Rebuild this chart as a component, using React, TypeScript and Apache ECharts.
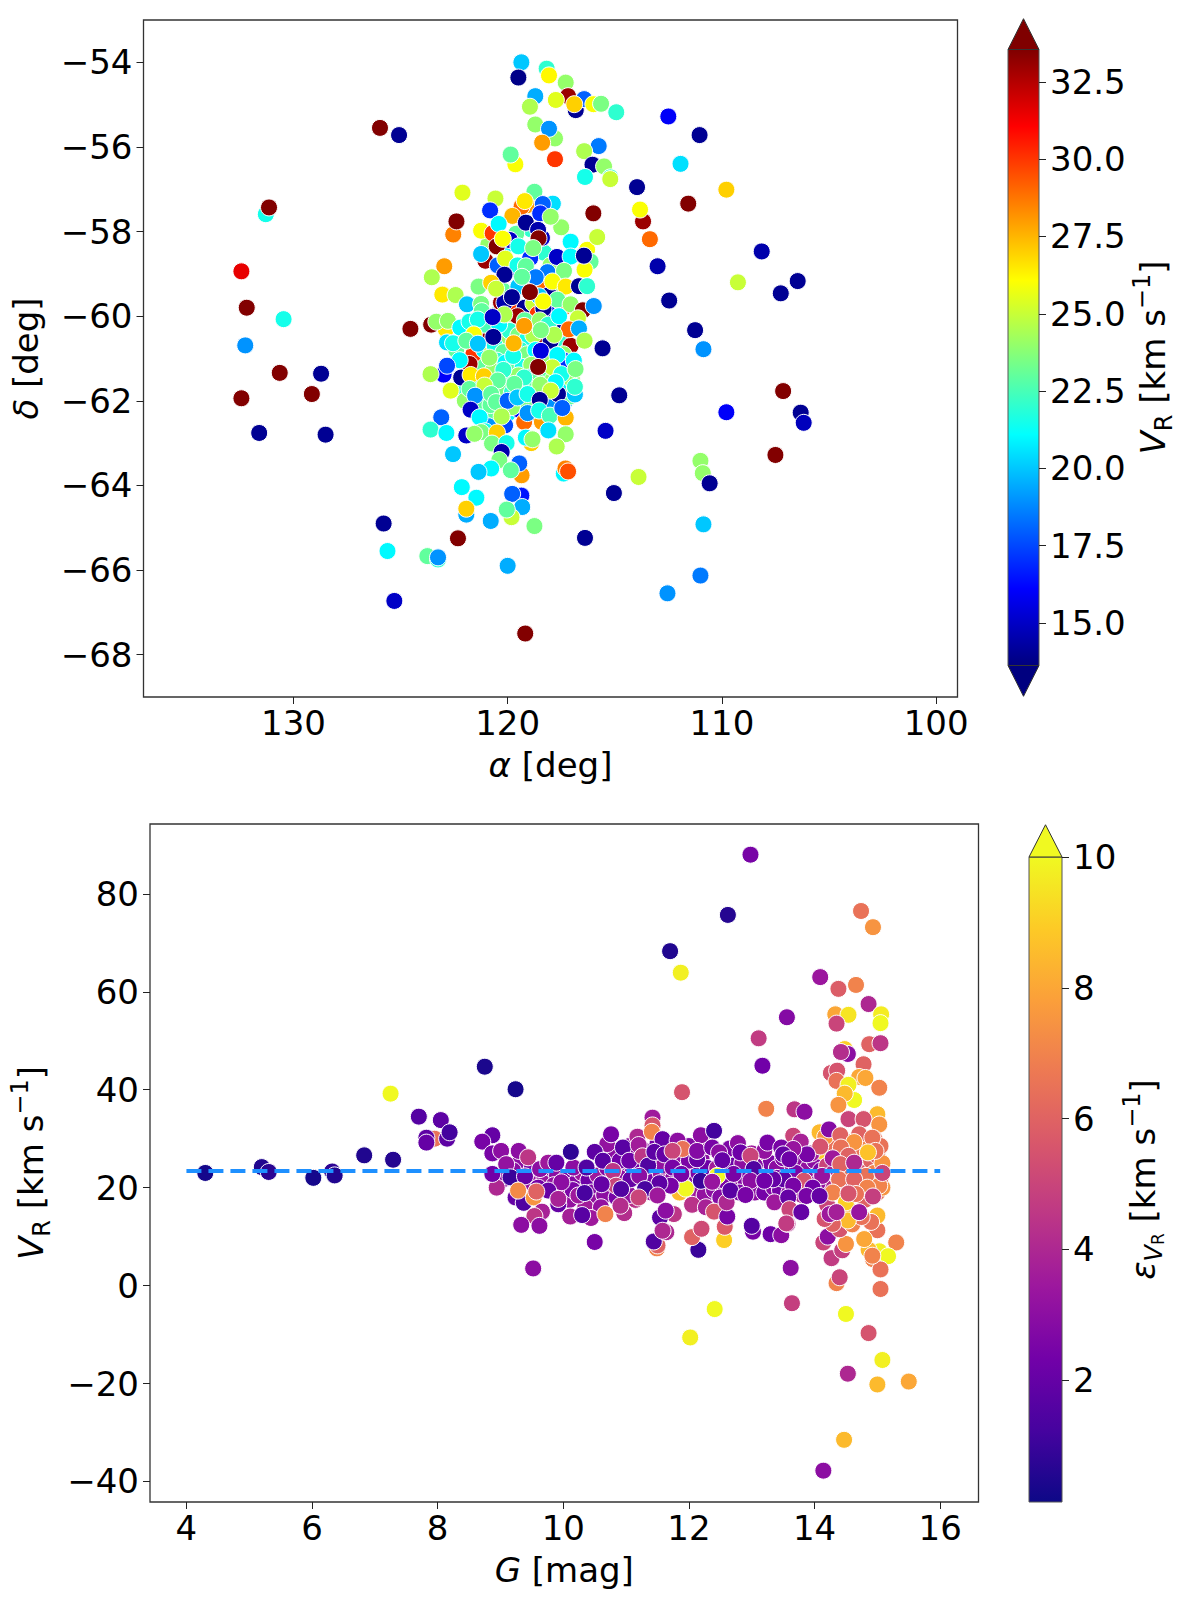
import React, { useEffect, useRef } from "react";
import * as echarts from "echarts";

type P = [number, number, number];

const FONT = "DejaVu Sans";
const raTicks = [130, 120, 110, 100];
const decTicks = [-54, -56, -58, -60, -62, -64, -66, -68];
const gTicks = [4, 6, 8, 10, 12, 14, 16];
const vrTicks = [80, 60, 40, 20, 0, -20, -40];
const vrBarTicks = [15, 17.5, 20, 22.5, 25, 27.5, 30, 32.5];
const errBarTicks = [2, 4, 6, 8, 10];
const jetColors = ["#00007f", "#0000ff", "#007fff", "#00ffff", "#7fff7f", "#ffff00", "#ff7f00", "#ff0000", "#7f0000"];
const plasmaColors = ["#0d0887", "#46039f", "#7201a8", "#9c179e", "#bd3786", "#d8576b", "#ed7953", "#fb9f3a", "#fdca26", "#f0f921"];
const meanVr = 23.4;
const meanLine = [[4, meanVr], [16, meanVr]];

// alpha, delta, V_R: slivers under the core of the cluster
const coreUnder: P[] = [
  [119.6, -61.0, 14], [119.3, -61.1, 26], [119.0, -61.0, 20], [118.7, -61.0, 29], [119.9, -61.2, 33], [120.1, -61.1, 21],
  [120.4, -61.1, 18], [120.7, -61.2, 26], [121.0, -61.1, 15], [121.3, -61.2, 23], [121.6, -60.9, 30], [121.1, -60.8, 21],
  [120.8, -60.7, 25], [120.2, -60.6, 14], [119.9, -60.5, 22], [119.4, -60.5, 19], [119.1, -60.4, 27], [118.7, -60.6, 15],
  [118.4, -60.7, 33], [118.1, -60.9, 23], [117.8, -61.0, 19], [117.6, -60.7, 26], [117.3, -60.6, 22], [118.8, -60.2, 14],
  [119.6, -60.2, 24], [120.2, -60.3, 28], [120.7, -60.3, 20], [121.1, -60.4, 33], [121.6, -60.2, 16], [120.4, -59.9, 22],
  [119.9, -59.8, 30], [119.2, -59.8, 14], [118.8, -59.7, 25], [118.6, -59.95, 30], [117.9, -59.9, 16], [117.4, -59.8, 29],
  [119.7, -61.5, 16], [119.4, -61.7, 24], [119.0, -61.6, 18], [118.7, -61.8, 21], [118.2, -61.5, 14], [117.8, -61.3, 28],
  [120.0, -61.8, 26], [120.3, -61.9, 15], [120.8, -61.6, 21], [121.3, -61.6, 33], [121.0, -61.9, 18], [120.0, -62.3, 21],
  [119.5, -62.2, 16], [119.2, -62.1, 25], [118.8, -62.3, 14], [118.4, -62.5, 28], [120.7, -62.3, 23], [120.9, -62.6, 19],
  [119.7, -58.9, 17], [118.3, -58.5, 22], [118.0, -58.8, 24], [117.7, -58.6, 15], [120.0, -58.3, 21], [120.9, -58.3, 24],
  [118.9, -57.95, 22], [119.6, -58.05, 23], [119.9, -58.2, 15], [118.4, -58.15, 15], [120.2, -59.4, 23], [119.5, -59.3, 20],
  [118.3, -59.2, 29], [117.6, -59.4, 24], [122.0, -60.5, 29], [122.4, -60.8, 23], [122.1, -61.7, 22], [117.4, -61.6, 21],
  [117.0, -61.5, 24], [117.3, -62.0, 20], [117.9, -62.1, 19], [121.4, -62.1, 23], [122.0, -62.0, 24], [118.9, -63.0, 27],
  [117.1, -61.9, 23], [120.6, -60.0, 33], [117.5, -57.9, 24],
  [120.31, -59.68, 33], [120.15, -59.68, 14.5], [118.07, -59.5, 14], [118.33, -59.82, 14], [119.54, -60, 33], [117.6, -60.31, 14],
  [120.46, -60.78, 33], [117.99, -60.58, 14], [117.14, -60.82, 14], [117.06, -60.7, 33], [121.78, -61.13, 33], [122.17, -61.45, 14],
  [118.45, -61.42, 33], [117.65, -61.84, 14], [118.99, -60.74, 17],
];

const coreFill: P[] = [
  [120.6, -60.4, 23], [120.3, -60.5, 24], [119.9, -60.35, 22], [119.5, -60.45, 23.5], [119.1, -60.55, 21.5], [118.8, -60.45, 24.5],
  [120.6, -60.7, 21.5], [120.2, -60.85, 23], [119.4, -60.8, 22], [119.1, -60.9, 23.5], [118.7, -60.8, 21], [118.3, -60.95, 24],
  [120.5, -61.05, 22], [120.1, -61.1, 21], [119.7, -61.2, 23], [119.3, -61.2, 21.5], [118.9, -61.15, 24], [118.6, -61.3, 22],
  [118.1, -61.3, 23], [117.7, -61.15, 20.5], [120.7, -61.3, 24], [120.3, -61.5, 21], [119.9, -61.45, 22.5], [119.5, -61.4, 24],
  [119, -61.45, 20.5], [118.7, -61.5, 23], [118.2, -61.75, 22], [117.9, -61.5, 24], [120.5, -61.75, 21.5], [120.2, -61.7, 23.5],
  [119.8, -61.8, 22], [119.3, -61.65, 21], [118.9, -61.7, 23], [118.7, -62.05, 22], [119.2, -62, 23.5], [119.8, -62.15, 24],
  [120.3, -62.1, 21.5], [120.8, -62.1, 23], [121.1, -60.2, 22.5], [120.4, -60.2, 21], [119.2, -60.1, 23], [118.5, -60.1, 24],
  [118.1, -60.2, 22], [121.6, -61.5, 22], [117.4, -60.9, 24],
];

const clusterOutskirts: P[] = [
  [119.36, -54.0, 20], [119.5, -54.36, 13.8], [118.18, -54.15, 22], [118.07, -54.31, 26.2], [117.29, -54.48, 24], [117.18, -54.8, 33],
  [118.71, -54.8, 19.5], [116.82, -55.13, 14], [116.43, -54.87, 18], [117.75, -54.89, 25.5], [116.89, -54.99, 27], [116.0, -54.99, 26],
  [115.64, -54.98, 23.5], [114.93, -55.18, 22], [118.96, -55.05, 24.5], [112.5, -55.28, 16], [111.04, -55.72, 14], [125.07, -55.72, 14],
  [125.96, -55.55, 33.5], [118.71, -55.47, 24], [117.79, -55.8, 24], [118.07, -55.57, 19], [118.39, -55.9, 28], [117.79, -56.29, 30],
  [115.75, -55.98, 18.5], [116.43, -56.1, 24.5], [119.64, -56.41, 26], [119.86, -56.18, 23], [116.04, -56.42, 14], [115.5, -56.46, 24],
  [111.93, -56.4, 20.5], [116.39, -56.71, 21.5], [115.21, -56.72, 22], [115.21, -56.76, 25], [113.96, -56.95, 14], [109.79, -57.01, 27],
  [122.11, -57.08, 25.5], [120.57, -57.22, 25], [118.75, -57.06, 23], [111.57, -57.34, 33.5], [131.29, -57.59, 21.5], [131.14, -57.43, 33.5],
  [117.89, -57.34, 20.5], [119.1, -57.38, 28], [118.36, -57.35, 18], [120.82, -57.5, 17], [113.68, -57.76, 33], [113.82, -57.48, 26],
  [116, -57.57, 33.5], [122.54, -58.07, 28.5], [122.39, -57.76, 33.5], [113.36, -58.18, 29], [108.14, -58.47, 14.5], [122.96, -58.82, 28],
  [113.0, -58.82, 14.5], [123.54, -59.08, 24.5], [109.25, -59.2, 25], [106.46, -59.17, 14], [107.25, -59.46, 14], [112.46, -59.63, 14],
  [132.43, -58.94, 31.5], [132.18, -59.8, 33.5], [130.46, -60.07, 21.5], [124.54, -60.3, 33.5], [123.57, -60.2, 33.5], [111.25, -60.33, 14],
  [132.25, -60.69, 19], [110.86, -60.78, 19], [115.57, -60.76, 14], [130.64, -61.34, 33.5], [128.71, -61.36, 14], [132.43, -61.94, 33.5],
  [129.14, -61.84, 33.5], [114.79, -61.87, 14], [107.14, -61.77, 33.5], [106.32, -62.28, 14], [106.18, -62.52, 14.8], [109.79, -62.27, 16],
  [131.6, -62.76, 14], [128.5, -62.8, 14], [115.43, -62.71, 15], [107.5, -63.28, 33.5], [111, -63.42, 24], [110.89, -63.71, 24],
  [110.57, -63.95, 14], [113.89, -63.8, 25], [115.04, -64.18, 14], [117.38, -63.72, 21], [117.3, -63.6, 28.5], [117.18, -63.67, 29.5],
  [125.79, -64.9, 14], [110.86, -64.92, 20], [116.39, -65.24, 14], [122.32, -65.25, 33.5], [125.61, -65.55, 21], [123.75, -65.67, 23],
  [123.25, -65.75, 22], [123.25, -65.7, 19], [120, -65.9, 19.5], [111, -66.13, 18.5], [112.54, -66.55, 19], [125.29, -66.73, 15],
  [119.18, -67.5, 33.5],
];

const clusterNorth: P[] = [
  [119.35, -57.41, 29], [119.2, -57.28, 26.5], [119.78, -57.63, 27.5], [118.48, -57.57, 17], [117.99, -57.65, 24], [121.24, -57.98, 26],
  [120.7, -58.04, 30], [120.42, -57.82, 21], [119.15, -57.79, 14], [118.58, -57.96, 14.5], [120.51, -58.35, 33.5], [120.23, -58.17, 26],
  [118.56, -58.16, 33.5], [119.5, -58.35, 21.5], [118.95, -58.63, 17], [118.81, -58.39, 23.5], [121.04, -58.69, 33], [121.24, -58.53, 20],
  [120.46, -58.8, 18], [120.11, -58.64, 25.5], [119.54, -58.8, 21.5], [119.15, -58.82, 23], [117.06, -58.24, 21], [117.06, -58.59, 21],
  [116.29, -58.43, 26], [116.13, -58.71, 23], [116.41, -58.9, 26], [116.44, -58.57, 14], [115.82, -58.13, 25], [120.15, -59.02, 14],
  [118.14, -58.96, 18.5], [117.37, -58.93, 23.5], [118.69, -59.08, 18.5], [119.33, -59.07, 23], [121.36, -59.3, 23.5], [120.77, -59.21, 27],
  [120.54, -59.35, 25], [123.05, -59.49, 26.5], [122.43, -59.5, 24.5], [117.91, -59.18, 26], [117.29, -59.3, 26.5], [116.67, -59.29, 14],
  [116.29, -59.29, 22],
];

const clusterCore: P[] = [
  [118.53, -59.53, 20], [117.68, -59.61, 23], [118.34, -59.65, 26], [117.6, -60, 21], [118.96, -59.43, 33.5], [119.8, -59.55, 14],
  [121.9, -59.72, 20], [121.24, -59.71, 23.5], [121.21, -59.88, 23], [117.06, -59.72, 24], [116.49, -59.86, 33.5], [116.72, -60.05, 25],
  [115.98, -59.76, 19], [122.89, -60.31, 26.5], [123.33, -60.13, 24], [122.79, -60.11, 24], [122.21, -60.27, 21], [121.78, -60.13, 21.5],
  [121.39, -60.08, 21.5], [120.16, -59.96, 24.5], [117.14, -60.31, 29], [116.67, -60.29, 19.5], [117.83, -60.44, 24.5], [118.45, -60.33, 23.5],
  [116.41, -60.58, 24.5], [122.83, -60.62, 20.5], [122.55, -60.64, 21.5], [121.58, -60.43, 26], [121.93, -60.58, 23], [121.39, -60.65, 20],
  [118.45, -60.82, 15.5], [117.37, -61.05, 17], [116.91, -61.05, 21], [117.68, -60.92, 21], [120.85, -60.98, 24], [119.74, -60.94, 21.5],
  [122.24, -61.04, 21], [122.99, -61.38, 16], [122.83, -61.17, 17.5], [123.6, -61.37, 24.5], [121.73, -61.39, 26.5], [121.11, -61.42, 27],
  [120.2, -61.27, 22], [117.91, -61.21, 25], [117.49, -61.37, 21.5], [116.83, -61.25, 23.5], [116.86, -61.85, 20], [116.86, -61.67, 22],
  [117.76, -61.56, 21], [118.48, -61.62, 24], [119.23, -61.45, 22], [119.69, -61.6, 23], [120.46, -61.52, 23], [122.66, -61.76, 25.5],
  [121.78, -61.72, 23], [121.08, -61.64, 25], [121.52, -61.88, 19], [120.77, -61.84, 23], [120.54, -62.03, 23], [120, -62, 18],
  [119.54, -61.92, 20], [119.07, -61.84, 21.5], [117.99, -61.76, 25], [120.7, -60.02, 15], [119.23, -60.23, 28], [120.67, -60.49, 14],
  [119.72, -60.64, 27.5], [118.58, -61.2, 33.5], [118.5, -61.98, 14],
];

const clusterSouth: P[] = [
  [121.73, -62.21, 15], [121.31, -62.39, 21], [120.12, -62.58, 17.5], [120.28, -62.37, 24.5], [119.23, -62.5, 29], [119.07, -62.29, 19],
  [118.53, -62.23, 21.5], [118.03, -62.35, 22.5], [117.29, -62.4, 27.5], [117.45, -62.17, 18], [118.1, -62.7, 20.5], [117.29, -62.79, 24],
  [117.71, -63.08, 24.5], [123.1, -62.39, 18], [123.6, -62.68, 22], [122.86, -62.76, 21], [121.93, -62.82, 15], [121.05, -62.72, 21.5],
  [121.24, -62.74, 23.5], [121.55, -62.78, 24], [120.5, -62.75, 27], [120.73, -63.01, 23.5], [120.05, -63, 21.5], [119.15, -62.87, 21],
  [118.84, -62.91, 24], [122.55, -63.26, 20], [120.28, -63.21, 14.5], [119.35, -63.76, 28], [119.46, -63.48, 18], [120.39, -63.4, 23.5],
  [120.77, -63.6, 21], [119.85, -63.64, 23], [121.36, -63.68, 20], [122.14, -64.04, 21], [121.46, -64.29, 21], [119.36, -64.24, 16.5],
  [119.79, -64.2, 18], [119.32, -64.51, 19.5], [121.93, -64.69, 19.5], [121.93, -64.55, 27], [119.82, -64.75, 25], [120.04, -64.57, 23],
  [120.79, -64.84, 19.5], [118.75, -64.96, 23.5],
];

// G, V_R, error on V_R
const sparseBright: P[] = [
  [4.3, 23.0, 0.3], [5.2, 24.2, 0.5], [5.31, 23.2, 0.7], [6.02, 22.0, 0.3], [6.32, 23.3, 0.8], [6.36, 22.5, 0.5],
  [6.83, 26.6, 0.5], [7.29, 25.7, 0.6], [7.25, 39.2, 10], [7.7, 34.5, 1.6], [8.05, 33.8, 1.8], [7.95, 30, 6.5],
  [8.15, 30.0, 1.8], [8.19, 31.3, 1.2], [7.82, 30.2, 1.8], [7.82, 29.2, 2], [8.75, 44.7, 0.4], [9.24, 40.1, 0.3],
  [12.98, 88.0, 2.5], [12.62, 75.7, 0.6], [11.7, 68.3, 0.5], [11.87, 63.9, 9.8],
];

const faintUpper: P[] = [
  [14.74, 76.5, 6.5], [14.93, 73.2, 7.5], [14.09, 63, 3.4], [14.38, 60.6, 5.8], [14.66, 61.4, 7], [14.86, 57.5, 4],
  [15.06, 55.4, 9.7], [15.05, 53.6, 10], [14.33, 55.4, 8], [14.54, 55.3, 9.5], [14.35, 53.5, 5], [13.56, 54.8, 2.8],
  [13.11, 50.5, 4.7], [14.87, 49.3, 6], [15.05, 49.5, 4.5], [14.48, 48.3, 9], [14.53, 47.3, 3], [14.42, 47.7, 4.2],
  [13.17, 44.9, 2.3], [14.78, 45.2, 6], [14.26, 43.4, 5.5], [14.36, 43.9, 5.5], [14.35, 41.8, 6.5], [14.71, 42.6, 8],
  [14.81, 42.4, 8], [15.03, 40.4, 7], [11.89, 39.5, 5.5], [14.54, 41, 9.8], [14.63, 37.9, 10], [14.48, 39.2, 8.5],
  [14.38, 36.9, 7.5], [13.23, 36.1, 7], [13.68, 36, 4.5], [13.84, 35.5, 3], [15.0, 35, 8.5], [14.54, 34, 5],
  [14.78, 34, 5.5], [15.03, 32.9, 7.5],
];

const faintLower: P[] = [
  [15.3, 8.8, 7], [15.03, 7, 9.8], [14.93, 5.4, 7], [14.86, 7.3, 8.5], [15.17, 6, 10], [15.05, 3.3, 6.5],
  [15.05, -0.7, 6.5], [14.35, 0.5, 7], [14.4, 1.7, 5], [14.27, 5.6, 4.7], [14.44, 7.2, 4.8], [14.5, 8.5, 7.5],
  [14.14, 8.8, 5], [14.21, 10, 3], [15.0, 11.3, 6.5], [15.0, 14.3, 8.5], [13.62, 3.6, 3], [13.64, -3.6, 4.8],
  [12.41, -4.8, 10], [12.02, -10.6, 9.8], [14.5, -5.8, 10], [14.86, -9.7, 5.5], [15.08, -15.2, 9.8], [14.53, -18, 4],
  [15, -20.2, 8.5], [15.5, -19.6, 8], [14.47, -31.5, 8.5], [14.14, -37.8, 3], [9.52, 3.5, 3], [10.5, 8.9, 2.5],
  [11.49, 7.6, 7], [11.5, 8.2, 6], [11.44, 9, 1.5], [12.15, 7.3, 1], [12.56, 9.3, 9], [12.05, 9.9, 6],
  [12.2, 11.6, 5.2], [12.57, 12, 5.7], [13.02, 11, 2.5], [13, 12.2, 1.6], [13.3, 10.5, 2.2], [13.47, 10.3, 3],
  [13.57, 12.6, 4], [11.64, 10.9, 4], [14.79, 9.5, 8],
];

const bandUnder: P[] = [
  [9.1, 22, 2.8], [9.3, 25, 3], [9.5, 21, 3.2], [9.5, 24, 2.6], [9.7, 22, 3.4], [9.8, 24, 2.8], [9.9, 22.5, 3], [10, 19.5, 3.5],
  [10.05, 22, 2.5], [10.1, 17.5, 3.2], [10.2, 21, 2.8], [10.25, 19, 4], [10.3, 23, 3.4], [10.4, 21.5, 2.2], [10.45, 19, 2.8], [10.5, 17, 3.2],
  [10.55, 22.5, 3.5], [10.65, 18.5, 3], [10.75, 21, 3.4], [10.8, 27, 3], [10.85, 18, 2.5], [10.95, 23, 2.6], [11, 20.5, 4], [11.05, 28.5, 3],
  [11.1, 23, 3.2], [11.15, 17.5, 4.4], [11.3, 27.5, 3], [11.3, 22, 3], [11.4, 25.5, 3.5], [11.45, 21.5, 2.5], [11.5, 29, 2.4], [11.55, 23, 3.5],
  [11.65, 29, 3.2], [11.7, 25, 2.6], [11.75, 22, 3], [11.85, 19, 8.5], [11.85, 26, 3.2], [11.95, 24, 2.2], [12, 28.5, 2.8], [12.05, 22, 2.8],
  [12.1, 18.5, 3.5], [12.15, 23, 2.6], [12.2, 26, 3], [12.25, 18.5, 3.2], [12.3, 28.5, 2.6], [12.3, 24, 2.2], [12.4, 19.5, 3], [12.45, 24, 3.6],
  [12.55, 21.5, 2.6], [12.6, 26, 3.4], [12.7, 24.5, 2.2], [12.75, 19.5, 3], [12.8, 22, 3.4], [12.85, 25, 3], [12.9, 21.5, 2.8], [13, 27, 3.5],
  [13.05, 19, 3], [13.1, 25.5, 2.2], [13.1, 22, 3], [13.15, 26.5, 5.5], [13.2, 19, 2.4], [13.3, 25, 2.6], [13.35, 20, 2.8], [13.4, 24, 3],
  [13.45, 19.5, 2.4], [13.5, 26, 2.8], [13.55, 22, 2.4], [13.6, 19, 3], [13.65, 24.5, 3.6], [13.7, 21, 3.2], [13.75, 26, 3], [13.8, 18.5, 4],
  [13.9, 24, 3.2], [13.95, 22, 3.5], [14, 25.5, 3], [14, 19.5, 4.5], [14.1, 27.5, 9], [14.1, 23.5, 2.6], [14.15, 21, 4], [14.2, 24.5, 5],
  [14.2, 16.5, 5], [14.25, 28.5, 6.5], [14.3, 23, 4], [14.3, 13.5, 6], [14.35, 26, 6.5], [14.4, 19.5, 6], [14.4, 11.5, 5.5], [14.45, 23, 6],
  [14.5, 29.5, 6], [14.5, 21, 5], [14.55, 15.5, 8], [14.55, 26.5, 5.5], [14.6, 23.5, 6.5], [14.65, 28, 6.5], [14.7, 19.5, 7], [14.75, 24, 5.5],
  [14.8, 17.5, 6], [14.85, 28.5, 7], [14.85, 22.5, 6.5], [14.9, 25.5, 6], [14.9, 13, 6.5], [14.95, 30, 6.5], [14.95, 23, 7], [15, 19, 6.5],
  [15, 26.5, 6], [15.05, 28.5, 6.5], [15.08, 20, 7.5], [15.08, 25, 7.5],
  [9.2, 23.5, 3], [9.6, 20, 2.4], [9.85, 20.5, 3.2], [10.15, 19.5, 2.6], [10.35, 16, 3.6], [10.6, 16, 3.2], [10.7, 24, 2.8], [10.9, 22, 3],
  [11.05, 18.5, 3.2], [11.25, 24.5, 2.4], [11.4, 19, 3.6], [11.6, 24.5, 3.2], [11.9, 20.5, 3], [12, 25.5, 2.6], [12.05, 16.5, 4.4], [12.25, 29, 3.4],
  [12.5, 18, 2.8], [12.65, 28, 2.6], [12.8, 19, 2.6], [13.05, 24.5, 2.8], [13.2, 27.5, 3.2], [13.4, 22, 2.6], [13.55, 27, 3], [13.7, 23, 2.6],
  [13.85, 20.5, 3], [13.95, 27, 3.6], [14.05, 21, 3.2], [14.6, 12.5, 7], [14.75, 14, 6.5], [15.05, 22, 6],
];

const bandMiddle: P[] = [
  [8.87, 30.7, 2], [8.71, 29.4, 2.5], [8.87, 27, 2.5], [9.01, 27.5, 3], [9.29, 27.5, 3], [9.09, 24.8, 3.2], [9.04, 21.7, 3], [8.94, 20, 4],
  [9.16, 22.1, 1], [8.87, 22.8, 2.3], [9.39, 22.3, 2], [9.44, 26.2, 4.5], [9.63, 23.8, 3], [9.76, 25.1, 3.5], [9.89, 25.1, 2], [10.16, 24.1, 3],
  [10.12, 27.3, 0.8], [10.37, 24.1, 1.5], [10.7, 28.9, 3.2], [10.76, 30.9, 2.5], [10.5, 27.3, 1.8], [10.63, 25.5, 1.7], [10.9, 25.5, 2.3], [10.95, 28.2, 1.7],
  [11.05, 25.5, 2.2], [11.18, 30.4, 4], [11.2, 28.7, 3.6], [11.42, 34.3, 3.5], [11.42, 32.7, 5.5], [11.41, 31.4, 7], [11.26, 26.4, 4.5], [11.35, 24.5, 1.5],
  [11.58, 29.9, 2], [11.45, 27.3, 1.8], [11.61, 26.8, 2], [11.82, 29.6, 3], [11.9, 27.9, 6.5], [11.74, 27.5, 5], [12.19, 30.7, 3], [12.4, 31.6, 1.2],
  [12.13, 25.8, 2], [12.13, 27.5, 2.8], [12.37, 28.2, 2.5], [12.48, 27.2, 3], [12.53, 25.6, 2], [12.78, 29.1, 3], [12.82, 27.2, 2.2], [12.98, 26.5, 5],
  [11.74, 24.1, 2.5], [11.95, 19.8, 10], [12.45, 22.4, 10], [12.19, 21.4, 1], [11.88, 22.8, 2.5], [11.71, 20.4, 2.5], [12.37, 21.2, 3.3], [12.71, 22.8, 2.5],
  [13.03, 23.8, 1.5], [12.98, 21.4, 3], [11.53, 20.9, 1.8], [11.07, 21.7, 2], [11.21, 22.4, 3], [11.3, 19.7, 1.3], [10.79, 23.4, 4.5], [10.84, 20.4, 5],
  [10.61, 20.7, 2], [10.92, 19.7, 1.5], [10.24, 18.4, 3.5], [10.34, 18.9, 1.3], [9.97, 21.1, 3], [9.76, 19.4, 2], [9.92, 16.6, 2], [9.92, 17.7, 3.8],
  [9.24, 18, 2], [9.37, 16.9, 1.5], [9.53, 18, 7.5], [9.28, 19.4, 7.2], [9.57, 19.2, 6], [9.66, 15.1, 3.8], [9.54, 14.2, 4.5], [9.33, 12.4, 3],
  [9.62, 12.2, 3], [10.11, 14.1, 3.7], [10.44, 13.8, 3.5], [10.3, 14.4, 1.7], [10.67, 14.6, 7], [10.97, 14.8, 4.2], [10.91, 16.3, 4.2], [11.2, 18, 5],
  [11.5, 18.4, 3.5], [11.76, 14.6, 4.5], [11.54, 13.9, 1.8], [11.63, 15.3, 3], [11.58, 11.2, 4], [12.27, 16, 3.8], [12.4, 15.1, 5.5], [12.61, 14.1, 2.5],
  [12.6, 17, 4], [12.66, 19.4, 1.7], [12.9, 18.5, 2.5],
];

const bandFaint: P[] = [
  [14.08, 31.3, 8.5], [14.17, 30.4, 7.5], [14.23, 31.9, 2.8], [14.41, 30.7, 6], [14.71, 30.9, 6], [14.92, 30.2, 6.5], [14.63, 29.3, 7.5], [13.66, 30.6, 5],
  [13.78, 29.4, 3.8], [13.25, 29.2, 2.5], [13.47, 28.2, 2.5], [14.09, 28.4, 5.5], [14.42, 28.2, 6.5], [14.97, 27.5, 6.5], [14.85, 27.2, 8.7], [14.54, 26.5, 6],
  [14.29, 26, 3.5], [13.88, 26.8, 2.5], [13.66, 27.9, 3.3], [13.5, 26.8, 2], [13.6, 25.8, 2.2], [14.41, 24.8, 6], [14.63, 25.1, 4], [14.12, 22.4, 3.3],
  [13.83, 21.4, 5.5], [13.51, 21.7, 1.8], [13.34, 21.7, 2], [13.2, 21.4, 2.3], [13.97, 20, 2.3], [13.66, 20.4, 2.5], [14.82, 22.4, 6.5], [14.39, 21.7, 6.5],
  [14.63, 21.7, 6], [15.03, 20.4, 7], [14.84, 20, 7], [15.08, 23, 5], [14.29, 19, 7], [14.5, 17, 9], [14.66, 18.7, 6.5], [14.54, 18.8, 5.5],
  [14.93, 18.2, 4.8], [13.36, 17, 3.5], [13.58, 18, 2], [13.87, 18.3, 2.5], [14.08, 18.3, 2], [14.53, 13.3, 8.5], [14.29, 12.6, 6], [14.16, 13.6, 5.5],
  [14.24, 14.6, 3.5], [14.35, 15, 3.7], [14.71, 15, 3.3], [13.6, 15.6, 5], [13.79, 15, 2], [13.55, 12.7, 4.7], [14.92, 6.1, 7],
];

const fmt = (v: number) => String(v).replace("-", "\u2212");
const rich = {
  n: { fontFamily: FONT, fontSize: 34, color: "#000", lineHeight: 46 },
  i: { fontFamily: FONT, fontSize: 34, fontStyle: "italic", color: "#000", lineHeight: 46 },
  sub: { fontFamily: FONT, fontSize: 24, color: "#000", verticalAlign: "bottom", lineHeight: 38 },
  subi: { fontFamily: FONT, fontSize: 24, fontStyle: "italic", color: "#000", verticalAlign: "bottom", lineHeight: 38 },
  subsub: { fontFamily: FONT, fontSize: 17, color: "#000", verticalAlign: "bottom", lineHeight: 30 },
  sup: { fontFamily: FONT, fontSize: 24, color: "#000", verticalAlign: "top", lineHeight: 38 },
};
const VR_NAME = "{i|V}{sub|R}{n| [km s}{sup|\u22121}{n|]}";
const ERR_NAME = "{i|\u03b5}{subi|V}{subsub|R}{n| [km s}{sup|\u22121}{n|]}";

const label = (margin: number, ticks: number[], formatter: (v: number) => string = fmt) => ({
  show: true, fontFamily: FONT, fontSize: 34, color: "#000", margin, hideOverlap: false, showMinLabel: true, showMaxLabel: true,
  customValues: ticks, formatter,
});
const tick = (ticks: number[]) => ({ show: true, length: 7, inside: false, lineStyle: { color: "#222", width: 1 }, customValues: ticks });

function valueAxis(extra: any) {
  return { type: "value", scale: true, splitLine: { show: false }, axisLine: { show: false, onZero: false }, ...extra };
}
const frame = { show: true, borderColor: "#333", borderWidth: 1.3, backgroundColor: "#fff" };

function barGrid(layout: any, stops: string[]) {
  return {
    ...layout,
    show: true,
    borderColor: "#555",
    borderWidth: 1,
    backgroundColor: {
      type: "linear", x: 0, y: 1, x2: 0, y2: 0,
      colorStops: stops.map((color, i) => ({ offset: i / (stops.length - 1), color })),
    },
  };
}

function extensionSeries(idx: number, lo: number, hi: number, ends: { top?: string; bottom?: string }) {
  const d = (hi - lo) * 0.05;
  return {
    type: "custom", xAxisIndex: idx, yAxisIndex: idx, clip: false, silent: true, z: 5,
    data: [[0, hi]],
    renderItem: (_: any, api: any) => {
      const children: any[] = [];
      const tri = (base: number, tip: number, fill: string) => {
        const a = api.coord([0, base]);
        const b = api.coord([1, base]);
        const c = api.coord([0.5, tip]);
        children.push({ type: "polygon", shape: { points: [a, b, c] }, style: { fill, stroke: "#333", lineWidth: 1 } });
      };
      if (ends.top) tri(hi, hi + d, ends.top);
      if (ends.bottom) tri(lo, lo - d, ends.bottom);
      return { type: "group", children };
    },
  };
}

const marker = { symbol: "circle", symbolSize: 17, itemStyle: { borderColor: "#fff", borderWidth: 1, opacity: 1 } };

export default function App() {
  const ref = useRef<HTMLDivElement>(null);
  useEffect(() => {
    const chart = echarts.init(ref.current!, null, { renderer: "svg" });
    const VMIN = 13.62, VMAX = 33.55, EMIN = 0.14, EMAX = 10;
    chart.setOption({
      animation: false,
      backgroundColor: "#fff",
      grid: [
        { left: 143.5, top: 20, width: 814, height: 677, ...frame },
        barGrid({ left: 1008, top: 49.5, width: 31, height: 616 }, jetColors),
        { left: 148, top: 824, width: 830.5, height: 678, ...frame },
        barGrid({ left: 1029, top: 857, width: 33, height: 645 }, plasmaColors),
      ],
      xAxis: [
        valueAxis({
          gridIndex: 0, min: 99, max: 137, inverse: true, axisLabel: label(9, raTicks), axisTick: tick(raTicks),
          name: "{i|\u03b1}{n| [deg]}", nameLocation: "middle", nameGap: 45, nameTextStyle: { rich },
        }),
        { type: "value", gridIndex: 1, min: 0, max: 1, show: false },
        valueAxis({
          gridIndex: 2, min: 3.42, max: 16.61, axisLabel: label(9, gTicks), axisTick: tick(gTicks),
          name: "{i|G}{n| [mag]}", nameLocation: "middle", nameGap: 45, nameTextStyle: { rich },
        }),
        { type: "value", gridIndex: 3, min: 0, max: 1, show: false },
      ],
      yAxis: [
        valueAxis({
          gridIndex: 0, min: -69, max: -53, axisLabel: label(11, decTicks), axisTick: tick(decTicks),
          name: "{i|\u03b4}{n| [deg]}", nameLocation: "middle", nameRotate: 90, nameGap: 95, nameTextStyle: { rich },
        }),
        valueAxis({
          gridIndex: 1, position: "right", min: VMIN, max: VMAX, axisLabel: label(11, vrBarTicks, (v) => v.toFixed(1)), axisTick: tick(vrBarTicks),
          name: VR_NAME, nameLocation: "middle", nameRotate: 90, nameGap: 91, nameTextStyle: { rich },
        }),
        valueAxis({
          gridIndex: 2, min: -44.2, max: 94.27, axisLabel: label(11, vrTicks), axisTick: tick(vrTicks),
          name: VR_NAME, nameLocation: "middle", nameRotate: 90, nameGap: 96, nameTextStyle: { rich },
        }),
        valueAxis({
          gridIndex: 3, position: "right", min: EMIN, max: EMAX, axisLabel: label(11, errBarTicks, (v) => String(v)), axisTick: tick(errBarTicks),
          name: ERR_NAME, nameLocation: "middle", nameRotate: 90, nameGap: 54, nameTextStyle: { rich },
        }),
      ],
      visualMap: [
        { type: "continuous", show: false, seriesIndex: 0, dimension: 2, min: VMIN, max: VMAX, inRange: { color: jetColors } },
        { type: "continuous", show: false, seriesIndex: 2, dimension: 2, min: EMIN, max: EMAX, inRange: { color: plasmaColors } },
      ],
      series: [
        {
          type: "scatter", xAxisIndex: 0, yAxisIndex: 0, ...marker,
          data: [...coreUnder, ...coreFill, ...clusterOutskirts, ...clusterNorth, ...clusterCore, ...clusterSouth],
        },
        extensionSeries(1, VMIN, VMAX, { top: "#7f0000", bottom: "#00007f" }),
        {
          type: "scatter", xAxisIndex: 2, yAxisIndex: 2, ...marker,
          data: [...sparseBright, ...faintUpper, ...faintLower, ...bandUnder, ...bandMiddle, ...bandFaint],
        },
        extensionSeries(3, EMIN, EMAX, { top: "#f0f921" }),
        {
          type: "line", xAxisIndex: 2, yAxisIndex: 2, data: meanLine, symbol: "none", z: 6,
          lineStyle: { color: "#1e90ff", width: 4, type: [15, 7] },
        },
      ],
    });
    return () => chart.dispose();
  }, []);
  return <div ref={ref} style={{ position: "absolute", left: 0, top: 0, width: 1200, height: 1604 }} />;
}
